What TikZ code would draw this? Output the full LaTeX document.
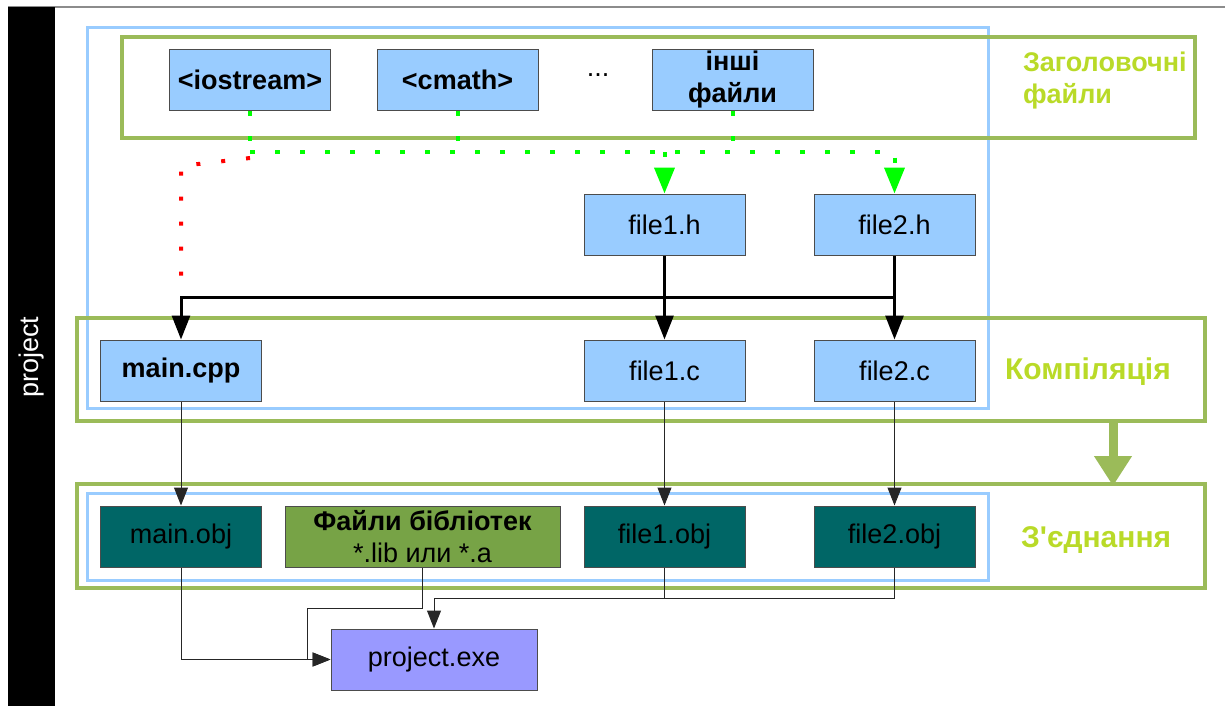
\documentclass[tikz,border=0pt]{standalone}
\usepackage{fontspec}
\setmainfont{Liberation Sans}
\usetikzlibrary{arrows.meta}
\definecolor{lblue}{RGB}{153,204,255}
\definecolor{fgreen}{RGB}{155,187,89}
\definecolor{lgreen}{RGB}{185,218,40}
\definecolor{objteal}{RGB}{0,102,102}
\definecolor{libgreen}{RGB}{119,163,70}
\definecolor{exeblue}{RGB}{153,153,255}
\definecolor{dotgreen}{RGB}{0,255,0}
\begin{document}
\begin{tikzpicture}[x=0.5pt,y=-0.5pt,
  font=\fontsize{13.5}{16}\selectfont,
  box/.style={draw=black!70, line width=0.5pt, fill=lblue, minimum width=80.5pt, minimum height=30.5pt, inner sep=0pt, align=center},
  objbox/.style={box, fill=objteal},
  bluefr/.style={draw=lblue, line width=1.5pt},
  greenfr/.style={draw=fgreen, line width=2pt},
  lab/.style={text=lgreen, font=\fontsize{14}{16}\selectfont\bfseries, anchor=west, align=left},
  blk/.style={line width=1.5pt, -{Triangle[length=12pt,width=9pt]}},
  thinarr/.style={line width=0.5pt, draw=black!85, -{Triangle[length=9pt,width=7pt]}},
  thinline/.style={line width=0.5pt, draw=black!85},
  gdot/.style={draw=dotgreen, line width=2pt, dash pattern=on 2.5pt off 10pt},
  gdotarr/.style={gdot, -{Triangle[length=13pt,width=10pt]}},
  rdot/.style={draw=red, line width=2pt, dash pattern=on 2pt off 10.5pt}
]
\useasboundingbox (0,0) rectangle (1225,706);
% top line and side bar
\draw[draw=black!45, line width=0.8pt] (8,7) -- (1225,7);
\fill[black] (8,7) rectangle (55,706);
\node[rotate=90, text=white] (proj) at (31.5,357) {project};

% frames
\draw[bluefr] (87,28) rectangle (988,408);
\draw[greenfr] (122,37) rectangle (1195,138);
\draw[greenfr] (77,318) rectangle (1205,421);
\draw[greenfr] (77,484) rectangle (1205,588);
\draw[bluefr] (87,493) rectangle (988,580);

% labels
\node[lab, font=\fontsize{13.5}{16}\selectfont\bfseries] (lh) at (1016,81) {Заголовочні\\файли};
\node[lab, font=\fontsize{15}{16}\selectfont\bfseries] (lc) at (998,372) {Компіляція};
\node[lab, font=\fontsize{15}{16}\selectfont\bfseries] (ll) at (1014,540) {З\textquotesingle єднання};

% header nodes
\node[box] (io) at (250,80) {\bfseries <iostream>};
\node[box] (cm) at (457.5,80) {\bfseries <cmath>};
\node (dots) at (598,75) {...};
\node[box] (oth) at (732.5,80) {\bfseries інші\\\bfseries файли};

\node[box] (f1h) at (664.5,224.5) {file1.h};
\node[box] (f2h) at (894.5,224.5) {file2.h};

\node[box] (mcpp) at (181,370.5) {\bfseries main.cpp};
\node[box] (f1c) at (664.5,370.5) {file1.c};
\node[box] (f2c) at (894.5,370.5) {file2.c};

\node[objbox] (mobj) at (181,536.5) {main.obj};
\node[box, fill=libgreen, minimum width=137.5pt] (lib) at (422.5,536.5) {\bfseries Файли бібліотек\\*.lib или *.a};
\node[objbox] (f1o) at (664.5,536.5) {file1.obj};
\node[objbox] (f2o) at (894.5,536.5) {file2.obj};

\node[box, fill=exeblue, minimum width=103pt] (exe) at (434,659.5) {project.exe};

% coordinates
\coordinate (gy) at (0,152);
\coordinate (hb) at (0,297);
\coordinate (r1) at (250,158);
\coordinate (r2) at (181,166);
\coordinate (r3) at (181,292);
\coordinate (lb) at (307,608);
\coordinate (ob) at (0,598);
\coordinate (ca) at (1113,421);
\coordinate (cb) at (1113,486);

% green dotted includes
\draw[gdot] (io.south) -- (io.south |- gy);
\draw[gdot] (cm.south) -- (cm.south |- gy);
\draw[gdot] (oth.south) -- (oth.south |- gy);
\draw[gdotarr] (io.south |- gy) -- (f2h.north |- gy) -- (f2h.north);
\draw[gdotarr] (f1h.north |- gy) -- (f1h.north);
% red dotted
\draw[rdot] (r1) -- (r2) -- (r3);

% black thick
\draw[blk] (f1h.south) -- (f1c.north);
\draw[blk] (f2h.south) -- (f2c.north);
\draw[blk] (f2h.south |- hb) -- (mcpp.north |- hb) -- (mcpp.north);

% compile arrows
\draw[thinarr] (mcpp.south) -- (mobj.north);
\draw[thinarr] (f1c.south) -- (f1o.north);
\draw[thinarr] (f2c.south) -- (f2o.north);

% big green arrow
\draw[draw=fgreen, line width=4.5pt, -{Triangle[length=15pt,width=18pt]}] (ca) -- (cb);

% link
\draw[thinarr] (mobj.south) |- (exe.west);
\draw[thinarr] (lib.south) |- (lb) |- (exe.west);
\draw[thinarr] (f1o.south) -- (f1o.south |- ob) -- (exe.north |- ob) -- (exe.north);
\draw[thinline] (f2o.south) -- (f2o.south |- ob) -- (f1o.south |- ob);
\end{tikzpicture}
\end{document}
